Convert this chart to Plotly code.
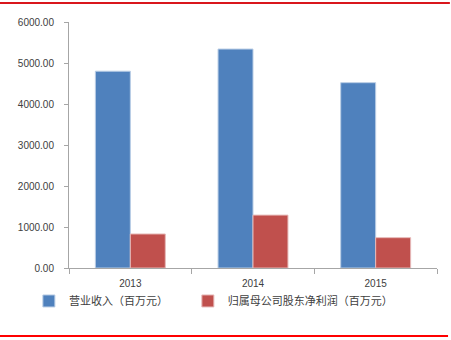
import plotly.graph_objects as go

years = ["2013", "2014", "2015"]
revenue = [4800, 5340, 4520]
net_profit = [830, 1290, 740]
series_names = ["营业收入（百万元）", "归属母公司股东净利润（百万元）"]
y_ticks = [0, 1000, 2000, 3000, 4000, 5000, 6000]

fig = go.Figure()
fig.add_trace(go.Bar(x=years, y=revenue, name=series_names[0], legend="legend",
                     marker=dict(color="#4F81BD", line=dict(color="#B9CDE5", width=1))))
fig.add_trace(go.Bar(x=years, y=net_profit, name=series_names[1], legend="legend2",
                     marker=dict(color="#C0504D", line=dict(color="#E6B9B8", width=1))))

legend_font = dict(family="Noto Sans CJK SC", size=11, color="#404040")
fig.update_layout(
    width=451, height=340,
    margin=dict(l=69, r=14, t=22, b=72),
    paper_bgcolor="white", plot_bgcolor="white",
    barmode="group", bargap=0.43, bargroupgap=0,
    font=dict(family="Liberation Sans, Noto Sans CJK SC", size=10, color="#404040"),
    showlegend=True,
    legend=dict(orientation="h", x=-0.109, xanchor="left", y=-0.134, yanchor="middle",
                font=legend_font, itemwidth=30, bgcolor="rgba(0,0,0,0)"),
    legend2=dict(orientation="h", x=0.323, xanchor="left", y=-0.134, yanchor="middle",
                 font=legend_font, itemwidth=30, bgcolor="rgba(0,0,0,0)"),
    xaxis=dict(showline=True, linecolor="#A6A6A6", linewidth=1,
               ticks="outside", tickson="boundaries", ticklen=5, tickcolor="#A6A6A6",
               ticklabelstandoff=6,
               showgrid=False, tickfont=dict(size=10, color="#404040")),
    yaxis=dict(range=[0, 6000], tickvals=y_ticks,
               ticktext=[f"{v:.2f}" for v in y_ticks],
               showline=True, linecolor="#A6A6A6", linewidth=1,
               ticks="outside", ticklen=4, tickcolor="#A6A6A6",
               ticklabelstandoff=8,
               showgrid=False, zeroline=False, tickfont=dict(size=10, color="#404040")),
    shapes=[
        dict(type="line", xref="paper", yref="paper", x0=-0.1875, x1=1.035,
             y0=1.077, y1=1.077, line=dict(color="#D9161C", width=2)),
        dict(type="line", xref="paper", yref="paper", x0=-0.1875, x1=1.03,
             y0=-0.276, y1=-0.276, line=dict(color="#FF0000", width=2)),
    ],
)

fig.write_html("out.html")
